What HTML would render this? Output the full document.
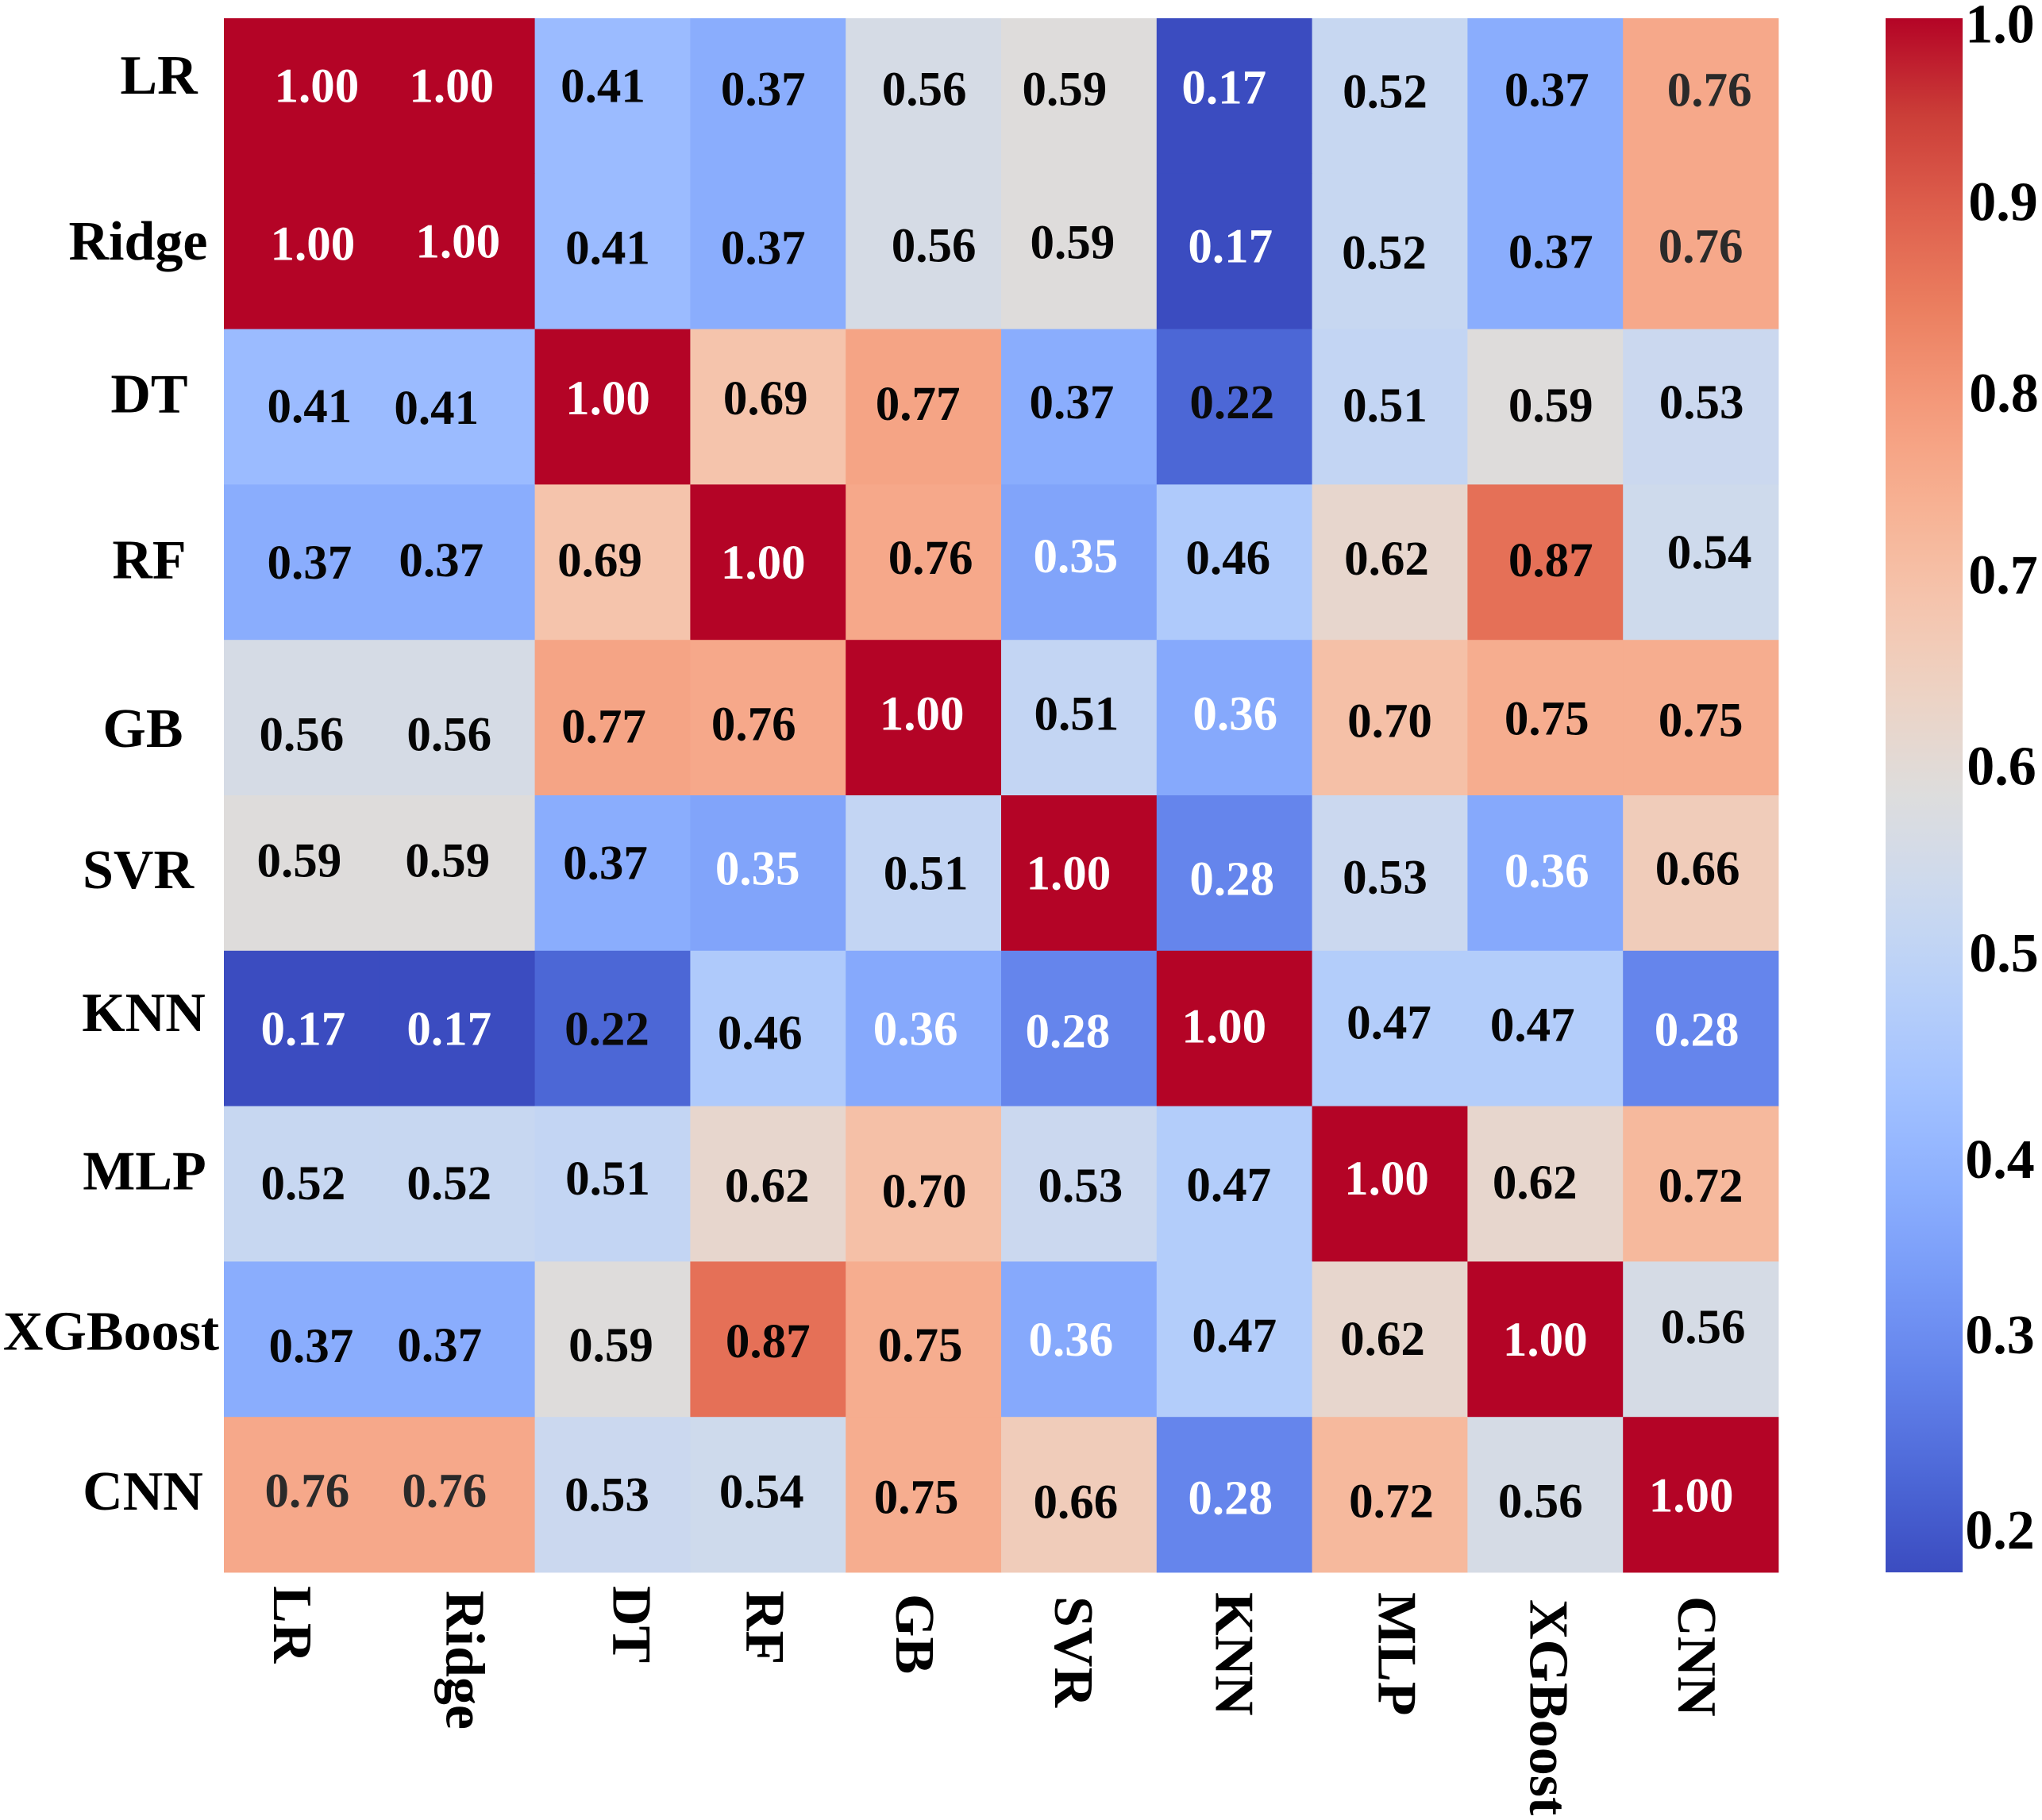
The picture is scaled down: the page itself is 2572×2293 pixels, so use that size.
<!DOCTYPE html>
<html lang="en">
<head>
<meta charset="utf-8">
<title>Model prediction correlation heatmap</title>
<style>
  html, body { margin: 0; padding: 0; background: #ffffff; }
  svg { display: block; font-family: "Liberation Serif", serif; font-weight: bold; }
</style>
</head>
<body>
<svg id="chart" xmlns="http://www.w3.org/2000/svg" width="2572" height="2293" viewBox="0 0 2572 2293">
  <rect x="0" y="0" width="2572" height="2293" fill="#ffffff"/>
  <defs>
    <linearGradient id="cbar-gradient" x1="0" y1="1" x2="0" y2="0"></linearGradient>
  </defs>
  <g id="cells"></g>
  <g id="annotations"></g>
  <g id="y-labels"></g>
  <g id="x-labels"></g>
  <g id="colorbar"></g>
</svg>
<script>
// ---------- data ----------
const categories = ["LR", "Ridge", "DT", "RF", "GB", "SVR", "KNN", "MLP", "XGBoost", "CNN"];
const correlationValues = [
  [1.00, 1.00, 0.41, 0.37, 0.56, 0.59, 0.17, 0.52, 0.37, 0.76],
  [1.00, 1.00, 0.41, 0.37, 0.56, 0.59, 0.17, 0.52, 0.37, 0.76],
  [0.41, 0.41, 1.00, 0.69, 0.77, 0.37, 0.22, 0.51, 0.59, 0.53],
  [0.37, 0.37, 0.69, 1.00, 0.76, 0.35, 0.46, 0.62, 0.87, 0.54],
  [0.56, 0.56, 0.77, 0.76, 1.00, 0.51, 0.36, 0.70, 0.75, 0.75],
  [0.59, 0.59, 0.37, 0.35, 0.51, 1.00, 0.28, 0.53, 0.36, 0.66],
  [0.17, 0.17, 0.22, 0.46, 0.36, 0.28, 1.00, 0.47, 0.47, 0.28],
  [0.52, 0.52, 0.51, 0.62, 0.70, 0.53, 0.47, 1.00, 0.62, 0.72],
  [0.37, 0.37, 0.59, 0.87, 0.75, 0.36, 0.47, 0.62, 1.00, 0.56],
  [0.76, 0.76, 0.53, 0.54, 0.75, 0.66, 0.28, 0.72, 0.56, 1.00]
];
const colorbarTicks = [1.0, 0.9, 0.8, 0.7, 0.6, 0.5, 0.4, 0.3, 0.2];

// ---------- hand-placed label nudges (the reference labels were moved by hand) ----------
const annotationNudgeX = [
  [19, -7, -12, -6, 1, -18, -13, -6, 2, 11],
  [14, 1, -6, -6, 13, -8, -5, -7, 7, 0],
  [10, -26, -6, -3, -7, -9, -3, -6, 7, 1],
  [10, -20, -16, -6, 9, -4, -8, -4, 7, 11],
  [0, -10, -11, -18, -2, -3, 1, 0, 2, 0],
  [-3, -12, -9, -13, 3, -13, -3, -6, 2, -4],
  [2, -10, -7, -10, -10, -14, -13, -1, -16, -5],
  [2, -10, -6, -1, 1, 2, -7, -4, -13, 0],
  [12, -22, -2, 0, -4, -10, 0, -9, 0, 3],
  [7, -16, -7, -8, -9, -4, -5, 2, -6, -12]
];
const annotationNudgeY = [
  [-13, -13, -13, -9, -9, -9, -11, -6, -8, -8],
  [-10, -13, -5, -5, -8, -12, -7, 1, 0, -7],
  [-1, 1, -11, -11, -4, -6, -6, -2, -2, -6],
  [0, -3, -3, 0, -6, -8, -6, -5, -3, -13],
  [21, 21, 11, 8, -5, -5, -5, 4, 1, 3],
  [-16, -16, -13, -6, 0, 0, 7, 5, -3, -6],
  [0, 0, 0, 5, 0, 3, -3, -8, -5, 1],
  [-1, -1, -7, 2, 9, 2, 1, -7, -2, 2],
  [8, 7, 7, 2, 7, 0, -5, -1, 0, -16],
  [-5, -5, 0, -4, 3, 9, 4, 8, 8, 1]
];
const yLabelCentreX = [200, 174, 188, 188, 180, 174, 181, 182, 140, 180];
const yLabelNudgeY = [-26, -13, -16, -3, 14, -4, -20, -16, -10, -4];
const xLabelBaselineNudge = [-35, -13, 1, -27, -34, -30, -23, -14, -19, -28];
const xLabelStartNudge = [0, 6, 0, 6, 10, 13, 8, 8, 17, 13];
const tickNudgeX = [-2, 2, 3, 2, 0, 3, -2, -2, -2];
const tickNudgeY = [7, -5, 0, -7, -2, -2, 22, 7, 17];

// ---------- layout ----------
const NS = "http://www.w3.org/2000/svg";
const plot = { left: 282, top: 23, size: 1958 };
const bar = { left: 2375, top: 23, width: 97, height: 1958, labelX: 2521 };
const vMin = 0.17, vMax = 1.0;
const ANNOT_SIZE = 61, LABEL_SIZE = 70, CAP_RATIO = 0.338;
const cellSize = plot.size / categories.length;

const xAt = i => plot.left + i * cellSize;
const yAt = j => plot.top + j * cellSize;
const barY = v => bar.top + (vMax - v) / (vMax - vMin) * bar.height;

// coolwarm colour scale
const cmapStops = [
  [59, 76, 192], [77, 104, 215], [98, 130, 234], [119, 154, 247],
  [141, 176, 254], [163, 194, 255], [184, 208, 249], [204, 217, 238],
  [221, 221, 221], [236, 211, 197], [245, 196, 173], [247, 177, 147],
  [244, 154, 123], [235, 127, 96], [222, 96, 77], [203, 62, 56], [180, 4, 38]
];
function cmap(t) {
  const c = Math.max(0, Math.min(1, t)) * (cmapStops.length - 1);
  const k = Math.min(Math.floor(c), cmapStops.length - 2);
  const f = c - k;
  const rgb = [0, 1, 2].map(n => Math.round(cmapStops[k][n] + (cmapStops[k + 1][n] - cmapStops[k][n]) * f));
  return "rgb(" + rgb.join(",") + ")";
}
const colorOf = v => cmap((v - vMin) / (vMax - vMin));

function annotationColor(v, i, j) {
  if (v >= 0.995) return "#ffffff";
  if (Math.abs(v - 0.22) < 0.005) return "#0a0a0a";
  if (v < 0.365) return "#ffffff";
  const inCnnLine = categories[i] === "CNN" || categories[j] === "CNN";
  if (inCnnLine && Math.abs(v - 0.76) < 0.005) return "#2a2a2a";
  return "#050505";
}

function make(tag, attrs, parent) {
  const el = document.createElementNS(NS, tag);
  for (const k in attrs) el.setAttribute(k, attrs[k]);
  parent.appendChild(el);
  return el;
}

// ---------- heatmap ----------
const cellsG = document.getElementById("cells");
const annotG = document.getElementById("annotations");
correlationValues.forEach((row, j) => {
  row.forEach((v, i) => {
    const rect = make("rect", {
      x: xAt(i), y: yAt(j), width: cellSize + 0.4, height: cellSize + 0.4,
      fill: colorOf(v)
    }, cellsG);
    
    

    const text = make("text", {
      x: xAt(i) + cellSize / 2 + annotationNudgeX[j][i],
      y: yAt(j) + cellSize / 2 + annotationNudgeY[j][i] + ANNOT_SIZE * CAP_RATIO,
      "text-anchor": "middle",
      "font-size": ANNOT_SIZE,
      fill: annotationColor(v, i, j)
    }, annotG);
    text.textContent = v.toFixed(2);
    
    
  });
});

// ---------- axis labels ----------
const yG = document.getElementById("y-labels");
const xG = document.getElementById("x-labels");
categories.forEach((name, i) => {
  const yl = make("text", {
    x: yLabelCentreX[i],
    y: yAt(i) + cellSize / 2 + yLabelNudgeY[i] + LABEL_SIZE * 0.33,
    "text-anchor": "middle",
    "font-size": LABEL_SIZE,
    fill: "#000000"
  }, yG);
  yl.textContent = name;
  
  

  const bx = xAt(i) + cellSize / 2 + xLabelBaselineNudge[i];
  const by = plot.top + plot.size + 17 + xLabelStartNudge[i];
  const xl = make("text", {
    transform: "translate(" + bx + "," + by + ") rotate(90)",
    "text-anchor": "start",
    "font-size": LABEL_SIZE,
    fill: "#000000"
  }, xG);
  xl.textContent = name;
  
  
});

// ---------- colorbar ----------
const grad = document.getElementById("cbar-gradient");
for (let s = 0; s <= 32; s++) {
  make("stop", { offset: s / 32, "stop-color": cmap(s / 32) }, grad);
}
const barG = document.getElementById("colorbar");
const barRect = make("rect", {
  x: bar.left, y: bar.top, width: bar.width, height: bar.height, fill: "url(#cbar-gradient)"
}, barG);


colorbarTicks.forEach((v, i) => {
  const t = make("text", {
    x: bar.labelX + tickNudgeX[i],
    y: barY(v) + tickNudgeY[i] + LABEL_SIZE * CAP_RATIO,
    "text-anchor": "middle",
    "font-size": LABEL_SIZE,
    fill: "#000000"
  }, barG);
  t.textContent = v.toFixed(1);
  
  
});
</script>
</body>
</html>
